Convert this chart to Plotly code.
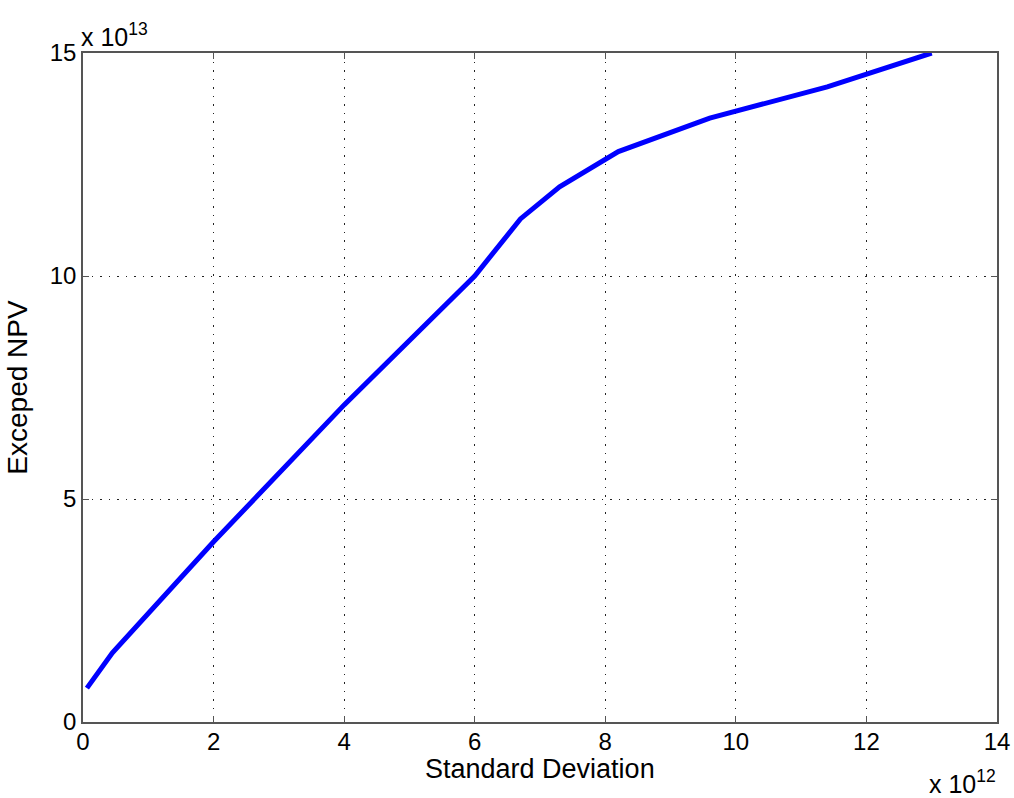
import plotly.graph_objects as go

# Data (x in units of 1e12, y in units of 1e13)
std_dev = [0.06, 0.45, 2.0, 4.0, 6.0, 6.7, 7.3, 8.2, 9.6, 11.4, 13.0]
expected_npv = [0.76, 1.55, 4.04, 7.11, 10.0, 11.28, 12.0, 12.79, 13.54, 14.24, 15.0]
x_ticks = [0, 2, 4, 6, 8, 10, 12, 14]
y_ticks = [0, 5, 10, 15]

FONT = "Liberation Sans, Arial, sans-serif"

fig = go.Figure()
fig.add_trace(go.Scatter(
    x=std_dev, y=expected_npv, mode="lines",
    line=dict(color="rgb(0,0,255)", width=5),
    showlegend=False,
))

axis_common = dict(
    showline=True, linecolor="#555", linewidth=1.5, mirror="ticks",
    ticks="inside", ticklen=6, tickcolor="#555",
    showgrid=True, gridcolor="#222", gridwidth=1, griddash="1.5px,7px",
    zeroline=False, automargin=False, ticklabeloverflow="allow",
    tickfont=dict(family=FONT, size=24, color="black"),
)

fig.update_layout(
    width=1014, height=798,
    margin=dict(l=83, r=17, t=53, b=76),
    paper_bgcolor="white", plot_bgcolor="white",
    xaxis=dict(range=[0, 14], tickvals=x_ticks, ticklabelstandoff=-3, **axis_common),
    yaxis=dict(range=[0, 15], tickvals=y_ticks,
               title=dict(text="Exceped NPV", standoff=14,
                          font=dict(family=FONT, size=28, color="black")),
               **axis_common),
    annotations=[
        dict(text="Standard Deviation", xref="paper", yref="paper", x=0.5, y=0.0,
             xanchor="center", yanchor="middle", showarrow=False, yshift=-47,
             font=dict(family=FONT, size=27, color="black")),
        dict(text="x 10<sup>13</sup>", xref="paper", yref="paper", x=0.0, y=1.0,
             xanchor="left", yanchor="bottom", showarrow=False, yshift=0, xshift=-4,
             font=dict(family=FONT, size=25, color="black")),
        dict(text="x 10<sup>12</sup>", xref="paper", yref="paper", x=1.0, y=0.0,
             xanchor="right", yanchor="top", showarrow=False, yshift=-42, xshift=1,
             font=dict(family=FONT, size=25, color="black")),
    ],
)

fig.write_html("out.html")
